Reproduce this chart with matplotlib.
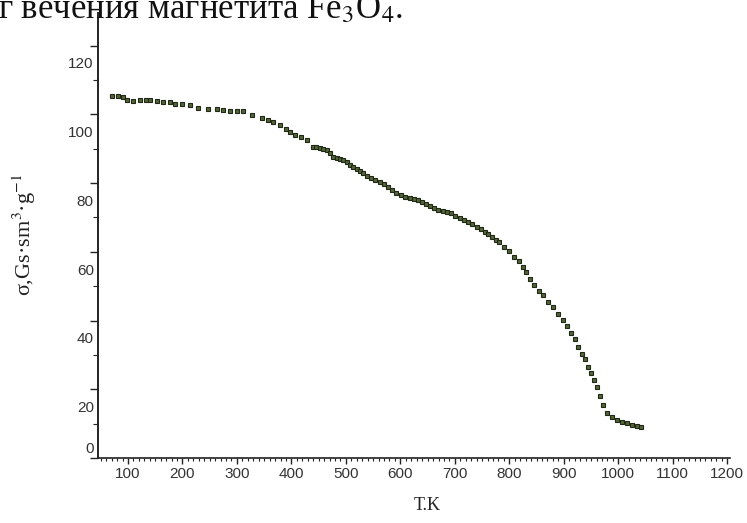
import numpy as np
import matplotlib
matplotlib.use("Agg")
import matplotlib.pyplot as plt
from matplotlib.ticker import FixedLocator, MultipleLocator, NullFormatter

# temperature, K
T = [71, 82, 91, 98, 109, 122, 133, 140, 153, 164, 177, 186, 199, 214, 228, 247,
     263, 274, 287, 300, 311, 328, 346, 357, 366, 379, 390, 397, 406, 417, 428,
     439, 445, 452, 458, 465, 471, 476, 484, 489, 495, 502, 507, 513, 520, 526,
     531, 539, 546, 553, 562, 570, 577, 584, 592, 601, 608, 617, 625, 632, 640,
     647, 654, 662, 669, 678, 685, 693, 700, 709, 717, 724, 731, 740, 748, 755,
     761, 768, 775, 781, 790, 799, 808, 817, 825, 830, 838, 845, 854, 862, 871,
     880, 889, 898, 906, 913, 920, 926, 933, 939, 944, 950, 955, 961, 966, 972,
     979, 988, 997, 1006, 1016, 1025, 1034, 1041]
# specific magnetization, Gs*sm^3/g
sigma = [110.4, 110.4, 110.1, 109.2, 109.0, 109.2, 109.2, 109.2, 108.8, 108.6,
         108.6, 108.1, 107.9, 107.6, 106.9, 106.6, 106.6, 106.2, 106.0, 106.0,
         105.9, 104.9, 104.0, 103.4, 102.8, 102.0, 100.8, 99.9, 99.1, 98.5, 97.6,
         95.6, 95.4, 95.3, 95.0, 94.7, 93.8, 92.7, 92.4, 92.1, 91.8, 91.2, 90.3,
         89.8, 89.2, 88.6, 88.0, 87.2, 86.6, 86.0, 85.4, 84.8, 84.0, 83.1, 82.2,
         81.6, 81.0, 80.8, 80.5, 80.2, 79.6, 79.0, 78.4, 77.8, 77.3, 77.0, 76.7,
         76.4, 75.5, 74.9, 74.4, 73.8, 73.2, 72.3, 71.5, 70.9, 70.3, 69.4, 68.5,
         68.0, 66.5, 65.1, 63.6, 62.2, 60.7, 59.2, 57.2, 55.2, 53.7, 52.3, 50.5,
         48.8, 47.0, 45.3, 43.3, 41.5, 39.5, 37.4, 35.4, 33.7, 31.6, 29.6, 27.6,
         25.8, 22.9, 20.3, 18.0, 16.8, 16.2, 15.6, 15.1, 14.5, 14.2, 13.9]

x_ticks = list(range(100, 1201, 100))
y_label_pos = [8.1, 20, 40, 60, 80, 100, 120]
y_labels = ["0", "20", "40", "60", "80", "100", "120"]
y_long = [5, 25, 45, 65, 85, 105, 125]
y_short = [15, 35, 55, 75, 95, 115]

plt.rcParams["mathtext.fontset"] = "stix"
ink = "#232323"
lab = "#333333"

fig = plt.figure(figsize=(7.47, 5.23), dpi=100)
ax = fig.add_axes([98 / 747, 1 - 458 / 523, 632 / 747, 445 / 523])

ax.plot(T, sigma, ls="none", marker="s", ms=3.4, mfc="#55653a",
        mec="#1e2814", mew=0.8)

ax.set_xlim(45, 1205)
ax.set_ylim(5, 134.5)
for s in ["top", "right"]:
    ax.spines[s].set_visible(False)
for s in ["left", "bottom"]:
    ax.spines[s].set_color(ink)
    ax.spines[s].set_linewidth(1.2)

ax.xaxis.set_major_locator(FixedLocator(x_ticks))
ax.xaxis.set_minor_locator(MultipleLocator(10))
ax.tick_params(axis="x", which="major", direction="out", length=4.5, width=1,
               color=ink, pad=2, labelsize=11, labelcolor=lab)
ax.tick_params(axis="x", which="minor", direction="out", length=2.5, width=0.8,
               color=ink)
for t in ax.get_xticklabels():
    t.set_fontfamily("Liberation Sans")

ax.yaxis.set_major_locator(FixedLocator(y_label_pos))
ax.set_yticklabels(y_labels, fontfamily="Liberation Sans")
ax.tick_params(axis="y", which="major", length=0, pad=3, labelsize=11,
               labelcolor=lab)

sec = ax.secondary_yaxis("left")
sec.yaxis.set_major_locator(FixedLocator(y_long))
sec.yaxis.set_minor_locator(FixedLocator(y_short))
sec.yaxis.set_major_formatter(NullFormatter())
sec.spines["left"].set_color(ink)
sec.spines["left"].set_linewidth(1.2)
sec.tick_params(which="major", direction="out", length=5.5, width=1, color=ink)
sec.tick_params(which="minor", direction="out", length=3.5, width=0.8, color=ink)

fig.text(427 / 747, 1 - 505 / 523, "T.K", ha="center", va="center",
         fontsize=13, fontfamily="Liberation Serif", color="#222222")
fig.text(24 / 747, 1 - 235 / 523, r"σ,Gs·sm$^3$·g$^{-1}$",
         rotation=90, ha="center", va="center", fontsize=16,
         fontfamily="Liberation Serif", color="#222222")
fig.text(-2 / 747, 1 - 18 / 523, r"г вечения магнетита Fe$_3$O$_4$.",
         ha="left", va="baseline", fontsize=25,
         fontfamily="Liberation Serif", color="#111111")

fig.savefig("out.png", dpi=100)
